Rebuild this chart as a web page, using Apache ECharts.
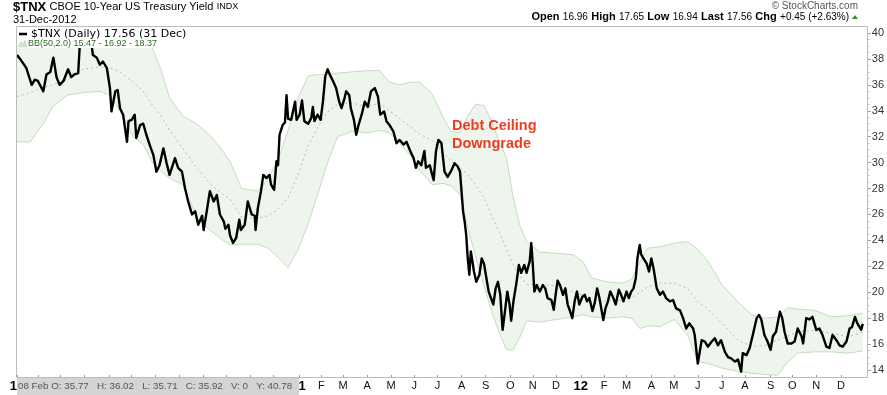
<!DOCTYPE html>
<html><head><meta charset="utf-8">
<script src="https://cdn.jsdelivr.net/npm/echarts@6/dist/echarts.min.js"></script>
<style>html,body{margin:0;padding:0;background:#fff}#c{width:887px;height:395px}</style>
</head><body><div id="c"></div>
<script>
// $TNX daily close
const tnxClose = [
['2010-01-04',38.3],['2010-01-08',38.0],['2010-01-16',37.3],['2010-01-23',36.0],['2010-01-27',36.4],['2010-01-31',36.3],
['2010-02-07',35.5],['2010-02-11',36.8],['2010-02-16',37.0],['2010-02-20',38.1],['2010-02-24',36.6],['2010-02-28',36.0],
['2010-03-05',36.3],['2010-03-11',37.2],['2010-03-15',36.6],['2010-03-19',36.8],['2010-03-24',36.9],['2010-03-26',39.0],['2010-03-31',39.4],
['2010-04-06',39.9],['2010-04-10',39.2],['2010-04-12',38.3],['2010-04-17',38.1],['2010-04-21',37.55],['2010-04-25',37.8],['2010-04-30',37.3],
['2010-05-04',35.75],['2010-05-06',33.95],['2010-05-11',35.5],['2010-05-14',35.6],['2010-05-17',34.2],['2010-05-21',33.7],['2010-05-26',31.6],['2010-05-28',33.2],
['2010-06-01',33.3],['2010-06-05',33.7],['2010-06-07',31.9],['2010-06-12',32.9],['2010-06-16',33.0],['2010-06-20',32.15],['2010-06-25',31.25],['2010-06-29',30.6],
['2010-07-03',29.3],['2010-07-07',29.8],['2010-07-12',31.1],['2010-07-16',30.0],['2010-07-20',29.05],['2010-07-27',30.35],['2010-07-31',29.6],
['2010-08-05',29.3],['2010-08-09',28.0],['2010-08-13',27.0],['2010-08-18',26.0],['2010-08-22',26.25],['2010-08-26',25.2],['2010-08-31',25.9],
['2010-09-02',24.8],['2010-09-06',26.25],['2010-09-10',27.8],['2010-09-15',27.0],['2010-09-19',27.5],['2010-09-23',26.0],['2010-09-28',25.45],['2010-09-30',24.9],
['2010-10-04',25.2],['2010-10-06',24.4],['2010-10-10',23.8],['2010-10-14',24.2],['2010-10-18',25.6],['2010-10-20',24.8],['2010-10-25',25.2],['2010-10-29',27.0],
['2010-11-03',26.0],['2010-11-07',25.9],['2010-11-08',24.8],['2010-11-11',26.5],['2010-11-15',27.8],['2010-11-18',29.05],['2010-11-22',28.8],['2010-11-26',29.05],['2010-11-28',28.3],
['2010-12-02',27.9],['2010-12-05',30.1],['2010-12-07',29.8],['2010-12-09',32.15],['2010-12-13',32.9],['2010-12-16',33.1],['2010-12-18',35.2],['2010-12-20',33.4],['2010-12-24',33.3],['2010-12-29',34.7],['2010-12-31',33.3],
['2011-01-04',33.7],['2011-01-07',34.8],['2011-01-10',33.2],['2011-01-15',33.0],['2011-01-19',33.45],['2011-01-21',34.3],['2011-01-23',33.2],['2011-01-27',33.7],['2011-01-31',33.3],
['2011-02-03',34.7],['2011-02-06',36.65],['2011-02-09',37.2],['2011-02-13',36.65],['2011-02-16',36.3],['2011-02-20',35.75],['2011-02-24',34.7],['2011-02-27',34.2],
['2011-03-03',35.0],['2011-03-05',35.5],['2011-03-09',35.2],['2011-03-11',34.2],['2011-03-15',33.3],['2011-03-18',32.15],['2011-03-21',32.9],['2011-03-25',33.7],['2011-03-29',34.7],
['2011-04-02',34.3],['2011-04-06',35.5],['2011-04-11',35.75],['2011-04-15',35.1],['2011-04-18',33.7],['2011-04-23',33.95],['2011-04-26',33.2],['2011-04-30',32.9],
['2011-05-05',32.4],['2011-05-09',31.5],['2011-05-13',31.75],['2011-05-18',31.4],['2011-05-22',31.6],['2011-05-26',31.0],['2011-05-31',30.35],
['2011-06-03',29.6],['2011-06-06',30.1],['2011-06-10',29.8],['2011-06-14',30.9],['2011-06-16',29.6],['2011-06-21',29.8],['2011-06-23',29.3],['2011-06-26',28.65],['2011-06-29',30.9],
['2011-07-02',31.75],['2011-07-06',31.5],['2011-07-10',29.3],['2011-07-14',28.9],['2011-07-18',29.3],['2011-07-23',29.95],['2011-07-27',29.7],['2011-07-30',29.3],
['2011-08-03',26.2],['2011-08-05',25.45],['2011-08-07',24.4],['2011-08-09',22.6],['2011-08-11',21.35],['2011-08-13',23.15],['2011-08-15',22.4],['2011-08-17',21.6],['2011-08-20',20.8],['2011-08-24',21.35],['2011-08-27',22.6],['2011-08-30',22.2],
['2011-09-02',21.1],['2011-09-05',20.05],['2011-09-08',19.55],['2011-09-11',19.05],['2011-09-14',20.3],['2011-09-17',20.8],['2011-09-20',19.8],['2011-09-23',17.1],['2011-09-26',18.5],['2011-09-29',20.05],
['2011-10-02',19.05],['2011-10-04',17.8],['2011-10-07',19.3],['2011-10-11',20.8],['2011-10-14',22.1],['2011-10-17',21.5],['2011-10-21',22.1],['2011-10-24',21.5],['2011-10-28',22.4],['2011-10-30',23.8],
['2011-11-01',22.1],['2011-11-03',20.05],['2011-11-06',20.55],['2011-11-10',20.05],['2011-11-14',20.55],['2011-11-17',20.3],['2011-11-20',19.55],['2011-11-25',19.4],['2011-11-28',18.65],
['2011-12-01',20.05],['2011-12-03',20.9],['2011-12-06',20.55],['2011-12-10',19.8],['2011-12-13',20.3],['2011-12-16',19.05],['2011-12-19',18.55],['2011-12-22',18.0],['2011-12-25',19.3],['2011-12-28',20.05],['2011-12-31',19.05],
['2012-01-04',19.65],['2012-01-07',19.8],['2012-01-10',19.3],['2012-01-13',19.55],['2012-01-17',18.55],['2012-01-20',19.2],['2012-01-23',20.3],['2012-01-26',19.55],['2012-01-31',17.85],
['2012-02-03',18.8],['2012-02-06',19.3],['2012-02-09',20.05],['2012-02-13',19.55],['2012-02-16',19.05],['2012-02-20',20.2],['2012-02-23',19.8],['2012-02-26',19.3],
['2012-03-01',20.05],['2012-03-04',19.55],['2012-03-07',20.05],['2012-03-10',20.3],['2012-03-13',21.1],['2012-03-15',22.6],['2012-03-18',23.65],['2012-03-20',22.9],['2012-03-23',22.6],['2012-03-27',22.2],['2012-03-30',21.6],
['2012-04-02',22.6],['2012-04-05',21.8],['2012-04-09',20.3],['2012-04-13',19.8],['2012-04-17',20.05],['2012-04-21',19.55],['2012-04-26',19.3],['2012-04-30',19.4],
['2012-05-04',18.75],['2012-05-09',18.6],['2012-05-13',18.0],['2012-05-17',17.2],['2012-05-21',17.6],['2012-05-26',17.2],['2012-05-28',16.7],
['2012-06-01',14.5],['2012-06-06',16.3],['2012-06-10',16.2],['2012-06-14',15.8],['2012-06-19',16.2],['2012-06-23',16.45],['2012-06-27',15.9],
['2012-07-01',16.3],['2012-07-06',15.4],['2012-07-10',15.0],['2012-07-14',14.9],['2012-07-19',14.65],['2012-07-23',14.8],['2012-07-27',13.87],['2012-07-29',15.3],
['2012-08-03',15.15],['2012-08-07',15.7],['2012-08-11',16.7],['2012-08-16',18.0],['2012-08-19',18.25],['2012-08-22',17.9],['2012-08-26',16.7],['2012-08-30',16.2],
['2012-09-03',15.55],['2012-09-06',16.6],['2012-09-10',16.95],['2012-09-15',18.5],['2012-09-18',18.0],['2012-09-21',16.95],['2012-09-25',16.05],['2012-09-30',16.05],
['2012-10-04',16.2],['2012-10-08',17.2],['2012-10-13',16.6],['2012-10-15',16.05],['2012-10-19',18.0],['2012-10-23',17.9],['2012-10-27',18.1],
['2012-11-01',17.1],['2012-11-05',17.2],['2012-11-09',16.7],['2012-11-14',15.8],['2012-11-18',15.7],['2012-11-22',16.7],['2012-11-27',16.3],
['2012-12-01',15.9],['2012-12-05',15.8],['2012-12-10',16.2],['2012-12-14',17.2],['2012-12-17',17.3],['2012-12-21',18.1],['2012-12-24',17.6],['2012-12-27',17.3],['2012-12-29',17.1],['2012-12-31',17.56]
];

// Bollinger Bands (50, 2.0)
const bandDates = ['2010-01-04','2010-01-21','2010-02-07','2010-02-19','2010-03-10','2010-03-30','2010-04-21','2010-05-04','2010-05-17','2010-06-03',
'2010-06-16','2010-06-28','2010-07-08','2010-07-20','2010-08-06','2010-08-24','2010-09-10','2010-09-23','2010-10-06','2010-10-21',
'2010-11-11','2010-11-24','2010-12-07','2010-12-20','2011-01-02','2011-01-15','2011-01-28','2011-02-09','2011-02-22','2011-03-12',
'2011-04-02','2011-04-17','2011-04-30','2011-05-13','2011-05-26','2011-06-08','2011-06-24','2011-07-08','2011-07-19','2011-07-30',
'2011-08-09','2011-08-19','2011-08-30','2011-09-09','2011-09-19','2011-09-28','2011-10-06','2011-10-15','2011-10-24','2011-11-10',
'2011-12-02','2011-12-23','2012-01-05','2012-01-16','2012-02-05','2012-02-25','2012-03-08','2012-03-18','2012-03-28','2012-04-13',
'2012-05-02','2012-05-19','2012-06-01','2012-06-14','2012-07-02','2012-07-23','2012-08-10','2012-08-27','2012-09-12','2012-09-25',
'2012-10-08','2012-10-30','2012-11-21','2012-12-12','2012-12-31'];
const bbUpper = [38.9,39.2,39.2,39.3,39.3,39.5,39.6,39.7,40.0,40.2,
39.6,38.8,37.3,35.0,33.6,33.0,32.1,31.2,30.1,28.0,
27.8,28.7,30.2,32.5,35.0,36.7,36.8,36.8,36.9,37.0,
37.1,37.1,36.2,36.0,36.2,36.2,35.3,33.5,32.4,32.3,
33.6,34.5,34.4,33.2,31.5,30.4,27.5,25.2,23.9,23.1,
23.0,22.9,22.35,21.1,20.8,20.7,21.0,22.3,23.4,23.5,
23.8,23.9,23.3,22.4,20.6,19.25,18.25,18.0,18.1,18.8,
18.7,18.6,18.1,18.2,18.37];
const bbMiddle = [35.1,35.4,35.8,36.0,36.4,37.2,37.4,37.3,37.0,36.2,
35.5,34.4,33.7,32.5,31.1,29.6,28.4,27.7,27.2,25.8,
25.7,25.9,26.4,27.3,29.1,31.3,32.8,33.9,34.5,34.6,
34.3,34.6,34.0,33.4,32.8,32.2,31.7,30.8,30.1,29.6,
29.1,28.3,27.3,25.9,24.6,23.3,22.2,21.3,20.6,20.6,
20.5,20.0,19.8,19.4,19.3,19.4,19.6,20.0,20.4,20.7,
20.7,20.3,19.25,18.7,17.6,16.3,15.8,15.9,16.3,16.6,
16.95,17.05,16.85,16.55,16.92];
const bbLower = [31.6,31.6,33.0,34.3,35.2,35.4,35.5,35.2,34.0,32.0,
31.4,30.0,29.4,28.8,28.3,25.8,24.8,24.2,23.65,23.7,
23.7,23.4,22.7,21.9,23.3,25.3,27.7,30.0,32.0,32.4,
32.3,32.5,32.3,31.5,30.6,29.4,28.3,28.4,28.2,27.5,
25.0,22.8,20.5,18.5,16.8,15.6,15.5,16.5,17.8,17.7,
17.9,18.1,18.25,18.1,18.0,18.1,18.0,17.2,17.4,17.35,
17.9,16.7,14.65,14.5,14.15,13.9,13.75,13.65,13.6,14.6,
15.3,15.4,15.4,15.3,15.47];

// axis labels
const monthLetters = ['J','F','M','A','M','J','J','A','S','O','N','D'];
const yearLabels = {2010:'10', 2011:'11', 2012:'12'};
const axisFirst = '2010-01-04', axisLast = '2012-12-31';

// build day categories and first-weekday-of-month labels
const axisDays = [], labelAt = {};
(function(){
  const d = new Date(2010,0,4), end = new Date(2012,11,31);
  let lastKey = null, i = 0;
  while (d <= end) {
    const y = d.getFullYear(), m = d.getMonth(), wd = d.getDay();
    axisDays.push(y+'-'+(m+1)+'-'+d.getDate());
    const key = y*12+m;
    if (key !== lastKey && wd >= 1 && wd <= 5) {
      labelAt[i] = m === 0 ? '{y|'+yearLabels[y]+'}' : monthLetters[m];
      lastKey = key;
    }
    d.setDate(d.getDate()+1); i++;
  }
})();

const chart = echarts.init(document.getElementById('c'), null, {renderer:'canvas'});
const F = 'Liberation Sans, Arial, sans-serif';
const showLbl = (i) => labelAt[i] !== undefined;
const bandEdge = {color:'#c6dcc0', width:1};

chart.setOption({
  animation:false,
  backgroundColor:'#ffffff',
  grid:{left:17, right:24, top:33, bottom:25, containLabel:false},
  xAxis:[
    {type:'time', min:axisFirst, max:axisLast, show:false},
    {type:'category', data:axisDays, boundaryGap:false, position:'bottom', offset:8,
     axisLine:{show:false}, splitLine:{show:false},
     axisTick:{show:true, inside:true, length:3, interval:showLbl, lineStyle:{color:'#999'}},
     axisLabel:{interval:showLbl, formatter:(v,i)=>labelAt[i], margin:2, fontSize:11, color:'#111', fontFamily:F,
       rich:{y:{fontWeight:'bold', fontSize:13, color:'#000', fontFamily:F}}}}
  ],
  yAxis:{type:'value', min:14, max:40, interval:2, position:'right', offset:5,
    axisLine:{show:false}, splitLine:{show:false},
    axisTick:{show:true, length:3, lineStyle:{color:'#999'}},
    minorTick:{show:true, splitNumber:4, length:2, lineStyle:{color:'#c8c8c8'}},
    axisLabel:{margin:4, fontSize:11, color:'#333', fontFamily:F}},
  series:[
    {type:'line', xAxisIndex:0, stack:'bb', symbol:'none', silent:true, clip:false,
     data:bandDates.map((d,i)=>[d,bbLower[i]]), lineStyle:bandEdge, z:2},
    {type:'line', xAxisIndex:0, stack:'bb', symbol:'none', silent:true, clip:false,
     data:bandDates.map((d,i)=>[d,+(bbUpper[i]-bbLower[i]).toFixed(3)]), lineStyle:bandEdge,
     areaStyle:{color:'#eef5ec', opacity:1}, z:2},
    {type:'line', xAxisIndex:0, symbol:'none', silent:true, clip:false,
     data:bandDates.map((d,i)=>[d,bbMiddle[i]]), lineStyle:{color:'#b8b8b8', width:1, type:[2,3]}, z:3},
    {type:'line', xAxisIndex:0, symbol:'none', silent:true, clip:false,
     data:tnxClose, lineStyle:{color:'#000', width:2.4, join:'round'}, z:5}
  ],
  graphic:[
    {type:'rect', z:50, shape:{x:16.5, y:26.5, width:851, height:351}, style:{fill:'none', stroke:'#bcbcbc', lineWidth:1}},
    {type:'rect', z:60, shape:{x:17, y:27, width:174, height:21}, style:{fill:'#fff'}},
    {type:'line', z:61, shape:{x1:19, y1:34, x2:27, y2:34}, style:{stroke:'#000', lineWidth:2.5}},
    {type:'text', z:61, style:{x:31, y:34, text:'$TNX (Daily) 17.56 (31 Dec)', font:'11px DejaVu Sans', fill:'#000', textVerticalAlign:'middle'}},
    {type:'polygon', z:61, shape:{points:[[18,47],[21,41],[23,44],[25,40],[27,47]]}, style:{fill:'#d3e3cd', stroke:'#b9cfb2', lineWidth:0.5}},
    {type:'text', z:61, style:{x:28, y:44, text:'BB(50,2.0) 15.47 - 16.92 - 18.37', font:'9px '+F, fill:'#2d6b1f', textVerticalAlign:'middle'}},
    {type:'text', z:61, style:{x:13, y:7, text:'{a|$TNX} {b|CBOE 10-Year US Treasury Yield} {c|INDX}', textVerticalAlign:'middle',
      rich:{a:{font:'bold 13px '+F, fill:'#000'}, b:{font:'11px '+F, fill:'#000'}, c:{font:'9px '+F, fill:'#000'}}}},
    {type:'text', z:61, style:{x:13, y:20, text:'31-Dec-2012', font:'11px '+F, fill:'#000', textVerticalAlign:'middle'}},
    {type:'text', z:61, style:{x:858, y:6, text:'\u00A9 StockCharts.com', font:'10px '+F, fill:'#555', textAlign:'right', textVerticalAlign:'middle'}},
    {type:'text', z:61, style:{x:849, y:17, textAlign:'right', textVerticalAlign:'middle',
      text:'{b|Open} {n|16.96} {b|High} {n|17.65} {b|Low} {n|16.94} {b|Last} {n|17.56} {b|Chg} {n|+0.45 (+2.63%)}',
      rich:{b:{font:'bold 11px '+F, fill:'#000'}, n:{font:'10px '+F, fill:'#000'}}}},
    {type:'polygon', z:61, shape:{points:[[852,19],[855,15],[858,19]]}, style:{fill:'#2f8f2f'}},
    {type:'text', z:61, style:{x:452, y:126, text:'Debt Ceiling', font:'bold 14.5px '+F, fill:'#f03c1e', textVerticalAlign:'middle'}},
    {type:'text', z:61, style:{x:452, y:144, text:'Downgrade', font:'bold 14.5px '+F, fill:'#f03c1e', textVerticalAlign:'middle'}},
    {type:'rect', z:70, shape:{x:17, y:378, width:282, height:17}, style:{fill:'#d4d4d4'}},
    {type:'text', z:71, style:{x:18, y:386.5, text:'08 Feb O: 35.77   H: 36.02   L: 35.71   C: 35.92   V: 0   Y: 40.78', font:'9.8px '+F, fill:'#555', textVerticalAlign:'middle'}}
  ]
});
</script></body></html>
